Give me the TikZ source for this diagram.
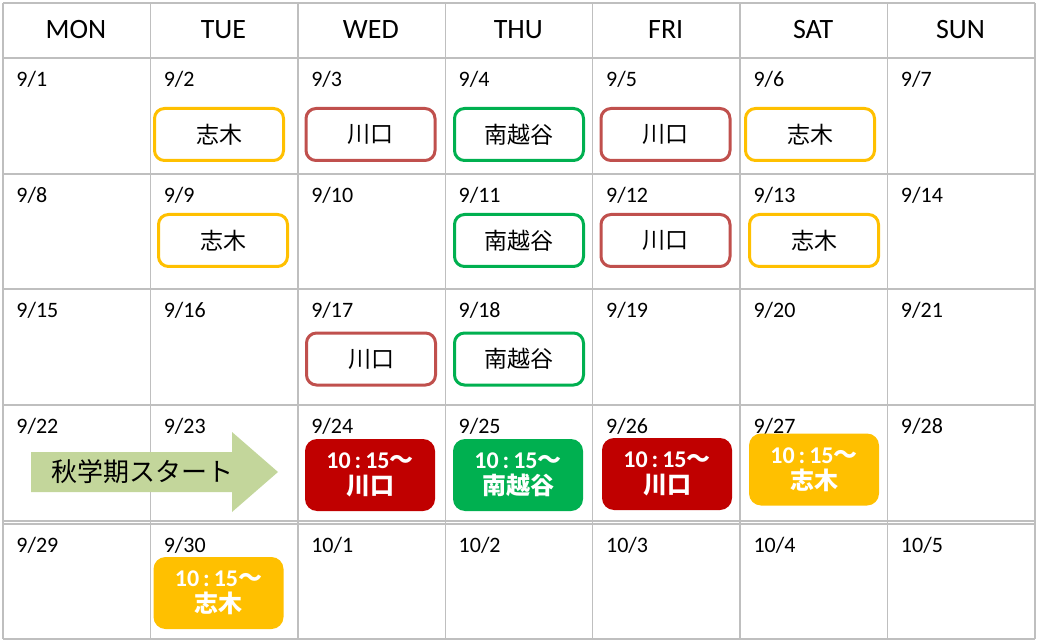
\documentclass[tikz,border=0pt]{standalone}
\usepackage{fontspec}
\setmainfont{Carlito}
\newfontfamily\jp{Noto Sans CJK JP}
\definecolor{gridgray}{HTML}{BFBFBF}
\definecolor{shiki}{HTML}{FFC000}
\definecolor{kawa}{HTML}{C0504D}
\definecolor{kawadark}{HTML}{C00000}
\definecolor{minami}{HTML}{00B050}
\definecolor{startgreen}{HTML}{C3D69B}
\begin{document}
\begin{tikzpicture}[x=0.5pt, y=-0.5pt,
  grid/.style={gridgray, line width=0.75pt},
  head/.style={font=\fontsize{14}{16}\selectfont},
  date/.style={anchor=west, inner sep=0pt, font=\fontsize{11}{13}\selectfont},
  place/.style={draw=#1, line width=1.5pt, rounded corners=5pt, fill=white,
    minimum width=64.5pt, minimum height=26pt,
    font=\fontsize{11.5}{13}\selectfont\jp},
  slot/.style={fill=#1, rounded corners=6pt, minimum width=65pt, minimum height=36pt,
    text=white, align=center, font=\bfseries\fontsize{12}{13}\selectfont}]
  \useasboundingbox (0,0) rectangle (1037,641);
  % grid
  \foreach \c in {0,...,7}
    \draw [grid] ({3+147.43*\c},3) -- ({3+147.43*\c},639);
  \foreach \y in {3,174,289,405,521,524,639}
    \draw [grid] (3,\y) -- (1035,\y);
  \draw [grid, line width=1.2pt] (3,58) -- (1035,58);
  % week days
  \foreach \d [count=\i from 0] in {MON,TUE,WED,THU,FRI,SAT,SUN}
    \node [head] (h\d) at ({76+147.43*\i},30) {\d};
  % dates
  \foreach \r/\ty in {0/79,1/195,2/310,3/426,4/545}
    \foreach \c in {0,...,6} {
      \pgfmathtruncatemacro\n{1+7*\r+\c}
      \pgfmathtruncatemacro\m{\n>30 ? 10 : 9}
      \pgfmathtruncatemacro\dd{\n>30 ? \n-30 : \n}
      \node [date] (d\m-\dd) at ({16+147.43*\c},\ty) {\m/\dd};
    }
  % start of term
  \fill [startgreen] (31,452) -- (232,452) -- (232,432) -- (278,472)
    -- (232,512) -- (232,492) -- (31,492) -- cycle;
  \node [font=\fontsize{13}{15}\selectfont\jp] (start) at (142,472) {秋学期スタート};
  % lessons
  \node [place=shiki] (e9-2) at (219,134.5) {志木};
  \node [place=kawa] (e9-3) at (370.5,134.5) {川口};
  \node [place=minami] (e9-4) at (519,134.5) {南越谷};
  \node [place=kawa] (e9-5) at (665.5,134.5) {川口};
  \node [place=shiki] (e9-6) at (810,134.5) {志木};
  \node [place=shiki] (e9-9) at (223,240.5) {志木};
  \node [place=minami] (e9-11) at (519,240.5) {南越谷};
  \node [place=kawa] (e9-12) at (665.5,240.5) {川口};
  \node [place=shiki] (e9-13) at (814,240.5) {志木};
  \node [place=kawa] (e9-17) at (371,359) {川口};
  \node [place=minami] (e9-18) at (519,359) {南越谷};
  \node [slot=kawadark] (e9-24) at (370,475) {10\,:\,15{\jp ～}\\{\jp 川口}};
  \node [slot=minami] (e9-25) at (518,475) {10\,:\,15{\jp ～}\\{\jp 南越谷}};
  \node [slot=kawadark] (e9-26) at (667,474) {10\,:\,15{\jp ～}\\{\jp 川口}};
  \node [slot=shiki] (e9-27) at (814,469.5) {10\,:\,15{\jp ～}\\{\jp 志木}};
  \node [slot=shiki] (e9-30) at (218.5,593) {10\,:\,15{\jp ～}\\{\jp 志木}};
\end{tikzpicture}
\end{document}
